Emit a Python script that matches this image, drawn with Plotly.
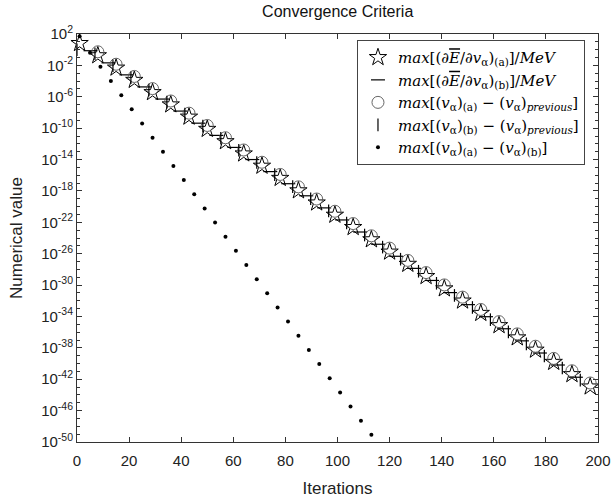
import plotly.graph_objects as go

# ---- data ----
iter_a = [1, 8, 15, 22, 29, 36, 43, 50, 57, 64, 71, 78, 85, 92, 99, 106, 113,
          120, 127, 134, 141, 148, 155, 162, 169, 176, 183, 190, 197]
grad_a = [6.5e0, 1.8e-1, 4.8e-3, 1.3e-4, 3.6e-6, 9.8e-8, 2.7e-9, 7.4e-11, 2.0e-12,
          5.5e-14, 1.5e-15, 4.2e-17, 1.1e-18, 3.1e-20, 8.5e-22, 2.3e-23, 6.3e-25,
          1.7e-26, 4.7e-28, 1.3e-29, 3.5e-31, 9.8e-33, 2.6e-34, 7.2e-36, 2.0e-37,
          5.4e-39, 1.5e-40, 4.1e-42, 1.1e-43]

iter_b = [5.2, 12.1, 19.0, 25.9, 32.8, 39.7, 46.6, 53.5, 60.4, 67.3, 74.2, 81.1,
          88.0, 94.9, 101.8, 108.7, 115.6, 122.5, 129.4, 136.3, 143.2, 150.1,
          157.0, 163.9, 170.8, 177.7, 184.6, 191.5]
grad_b = [7.4e-1, 2.1e-2, 6.2e-4, 1.8e-5, 5.1e-7, 1.5e-8, 4.3e-10, 1.2e-11, 3.5e-13,
          1.0e-14, 2.9e-16, 8.3e-18, 2.4e-19, 6.9e-21, 2.0e-22, 5.8e-24, 1.6e-25,
          4.7e-27, 1.35e-28, 3.9e-30, 1.1e-31, 3.2e-33, 9.3e-35, 2.7e-36, 7.8e-38,
          2.2e-39, 6.5e-41, 1.8e-42]

iter_c = iter_a
dv_c = [2.5e2, 5.4e-1, 1.4e-2, 3.9e-4, 1.1e-5, 2.9e-7, 8.1e-9, 2.2e-10, 6.0e-12,
        1.65e-13, 4.5e-15, 1.26e-16, 3.3e-18, 9.3e-20, 2.55e-21, 6.9e-23, 1.9e-24,
        5.1e-26, 1.4e-27, 3.9e-29, 1.05e-30, 2.9e-32, 7.8e-34, 2.2e-35, 6.0e-37,
        1.6e-38, 4.5e-40, 1.2e-41, 3.3e-43]

iter_d = [0, 6.9, 13.8, 20.7, 27.6, 34.5, 41.4, 48.3, 55.2, 62.1, 69.0, 75.9, 82.8,
          89.7, 96.6, 103.5, 110.4, 117.3, 124.2, 131.1, 138.0, 144.9, 151.8,
          158.7, 165.6, 172.5, 179.4, 186.3, 193.2]
dv_d = [1.0e0, 3.1e-1, 8.9e-3, 2.6e-4, 7.4e-6, 2.1e-7, 6.2e-9, 1.8e-10, 5.1e-12,
        1.5e-13, 4.2e-15, 1.2e-16, 3.5e-18, 1.0e-19, 2.9e-21, 8.3e-23, 2.4e-24,
        6.9e-26, 2.0e-27, 5.8e-29, 1.7e-30, 4.8e-32, 1.4e-33, 3.9e-35, 1.1e-36,
        3.2e-38, 9.3e-40, 2.7e-41, 7.8e-43]

iter_e = [1, 5, 9, 13, 17, 21, 25, 29, 33, 37, 41, 45, 49, 53, 57, 61, 65, 69, 73,
          77, 81, 85, 89, 93, 97, 101, 105, 109, 113]
dv_e = [5.0e1, 4.2e-1, 6.5e-3, 1.0e-4, 1.6e-6, 2.5e-8, 4.0e-10, 6.2e-12, 9.8e-14,
        1.5e-15, 2.4e-17, 3.8e-19, 5.9e-21, 9.3e-23, 1.45e-24, 2.3e-26, 3.6e-28,
        5.6e-30, 8.9e-32, 1.4e-33, 2.2e-35, 3.5e-37, 5.4e-39, 8.5e-41, 1.3e-42,
        2.1e-44, 3.3e-46, 5.1e-48, 8.1e-50]

x_ticks = [0, 20, 40, 60, 80, 100, 120, 140, 160, 180, 200]
y_tick_exps = [2, -2, -6, -10, -14, -18, -22, -26, -30, -34, -38, -42, -46, -50]

names = [
    "<i>max</i>[(∂<span style='text-decoration:overline'><i>E</i></span>/∂<i>v</i><sub>α</sub>)<sub>(a)</sub>]/<i>MeV</i>",
    "<i>max</i>[(∂<span style='text-decoration:overline'><i>E</i></span>/∂<i>v</i><sub>α</sub>)<sub>(b)</sub>]/<i>MeV</i>",
    "<i>max</i>[(<i>v</i><sub>α</sub>)<sub>(a)</sub> − (<i>v</i><sub>α</sub>)<sub><i>previous</i></sub>]",
    "<i>max</i>[(<i>v</i><sub>α</sub>)<sub>(b)</sub> − (<i>v</i><sub>α</sub>)<sub><i>previous</i></sub>]",
    "<i>max</i>[(<i>v</i><sub>α</sub>)<sub>(a)</sub> − (<i>v</i><sub>α</sub>)<sub>(b)</sub>]",
]

fig = go.Figure()
fig.add_trace(go.Scatter(x=iter_a, y=grad_a, mode="markers", name=names[0],
                         cliponaxis=False,
                         marker=dict(symbol="star-open", size=13, color="black",
                                     line=dict(width=1, color="black"))))
fig.add_trace(go.Scatter(x=iter_b, y=grad_b, mode="markers", name=names[1],
                         cliponaxis=False,
                         marker=dict(symbol="line-ew", size=10, color="black",
                                     line=dict(width=1.2, color="black"))))
fig.add_trace(go.Scatter(x=iter_c, y=dv_c, mode="markers", name=names[2],
                         cliponaxis=False,
                         marker=dict(symbol="circle-open", size=12, color="#555",
                                     line=dict(width=0.9, color="#555"))))
fig.add_trace(go.Scatter(x=iter_d, y=dv_d, mode="markers", name=names[3],
                         cliponaxis=False,
                         marker=dict(symbol="line-ns", size=9, color="black",
                                     line=dict(width=1.2, color="black"))))
fig.add_trace(go.Scatter(x=iter_e, y=dv_e, mode="markers", name=names[4],
                         cliponaxis=False,
                         marker=dict(symbol="circle", size=4, color="black")))

axis_common = dict(showgrid=False, zeroline=False, showline=True, linecolor="#333",
                   linewidth=1, mirror="ticks", ticks="inside", tickcolor="#333",
                   ticklen=5, automargin=False,
                   tickfont=dict(family="Liberation Sans, Arial", size=15, color="#222"))

fig.update_xaxes(range=[0, 200], tickvals=x_ticks, ticktext=[str(v) for v in x_ticks],
                 ticklabelstandoff=5,
                 title=dict(text="Iterations", font=dict(family="Liberation Sans, Arial",
                                                         size=17, color="#222"),
                            standoff=14),
                 **axis_common)
fig.update_yaxes(type="log", range=[-50, 2],
                 tickvals=[10.0 ** e for e in y_tick_exps],
                 ticktext=["10<sup>%d</sup>" % e for e in y_tick_exps],
                 minor=dict(dtick=1, ticks="inside", ticklen=3, tickcolor="#333"),
                 title=dict(text="Numerical value", font=dict(family="Liberation Sans, Arial",
                                                              size=17, color="#222"),
                            standoff=14),
                 **axis_common)

fig.update_layout(
    width=614, height=500,
    margin=dict(l=77, r=16, t=34, b=58, autoexpand=False),
    paper_bgcolor="white", plot_bgcolor="white",
    title=dict(text="Convergence Criteria", x=0.55, xanchor="center", y=0.988,
               yanchor="top",
               font=dict(family="Liberation Sans, Arial", size=16, color="#111")),
    legend=dict(x=0.975, xanchor="right", y=0.985, yanchor="top",
                bgcolor="white", bordercolor="#444", borderwidth=1,
                font=dict(family="DejaVu Serif", size=15, color="black"),
                tracegroupgap=0, itemsizing="trace", itemwidth=30),
    showlegend=True,
)

fig.write_html("out.html", config={"displayModeBar": False},
               post_script="document.body.style.margin='0';")
